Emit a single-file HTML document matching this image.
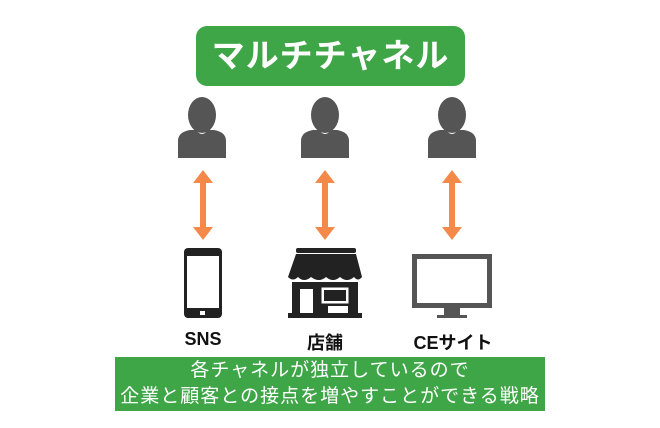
<!DOCTYPE html>
<html><head><meta charset="utf-8"><style>
body{margin:0;width:660px;height:428px;background:#fff;overflow:hidden;position:relative;font-family:"Liberation Sans","Noto Sans CJK JP",sans-serif}
.t{position:absolute;left:196px;top:26px;width:269px;height:60px;background:#3fa647;border-radius:11px;color:#fff;font-size:33px;font-weight:bold;text-align:center;line-height:60px;letter-spacing:1px}
.l{position:absolute;top:329px;font-size:18px;color:#111;width:120px;text-align:center;font-weight:bold}
.b{position:absolute;left:115px;top:357px;width:430px;height:53px;background:#3fa647;color:#fff;font-size:19px;text-align:center;line-height:26px;padding-top:1px;letter-spacing:1px}
</style></head><body>
<div class="t">マルチチャネル</div>
<svg width="660" height="428" style="position:absolute;left:0;top:0">
<defs>
<g id="p" fill="#555"><ellipse cx="0" cy="-21" rx="14" ry="18"/><path d="M-24 22 V5 Q-24 -4 -12 -6 L-6 -6 Q0 2 6 -6 L12 -6 Q24 -4 24 5 V22 Z"/></g>
<g id="a" fill="#f4894a"><rect x="-3" y="-24" width="6" height="48"/><polygon points="0,-35 -10,-22 10,-22"/><polygon points="0,35 -10,22 10,22"/></g>
</defs>
<use href="#p" x="202" y="136"/><use href="#p" x="325" y="136"/><use href="#p" x="452" y="136"/>
<use href="#a" x="203" y="205"/><use href="#a" x="325" y="205"/><use href="#a" x="452" y="205"/>
<rect x="184" y="248" width="38" height="70" rx="4" fill="#222"/>
<rect x="187" y="256" width="32" height="52" fill="#fff"/>
<rect x="200" y="311" width="5" height="4" fill="#fff"/>
<rect x="296" y="248" width="60" height="5" rx="2" fill="#222"/>
<path d="M296 254 H356 L362 277 Q358 282 354 277 Q347 283 340 277 Q333 283 326 277 Q319 283 311 277 Q304 283 298 277 Q293 282 288 277 Z" fill="#222"/>
<rect x="292" y="282" width="66" height="31" fill="#222"/>
<rect x="288" y="313" width="74" height="5" fill="#222"/>
<rect x="300" y="289" width="13" height="24" fill="#fff"/>
<rect x="322" y="288" width="26" height="15" fill="#fff" stroke="#fff"/>
<rect x="324" y="290" width="22" height="11" fill="#222"/>
<rect x="328" y="306" width="20" height="7" fill="#fff"/>
<rect x="412" y="254" width="80" height="54" fill="#555"/>
<rect x="417" y="259" width="70" height="44" fill="#fff"/>
<rect x="444" y="308" width="16" height="7" fill="#555"/>
<rect x="437" y="315" width="30" height="3" fill="#555"/>
</svg>
<div class="l" style="left:143px">SNS</div>
<div class="l" style="left:265px">店舗</div>
<div class="l" style="left:393px">CEサイト</div>
<div class="b">各チャネルが独立しているので<br>企業と顧客との接点を増やすことができる戦略</div>
</body></html>
